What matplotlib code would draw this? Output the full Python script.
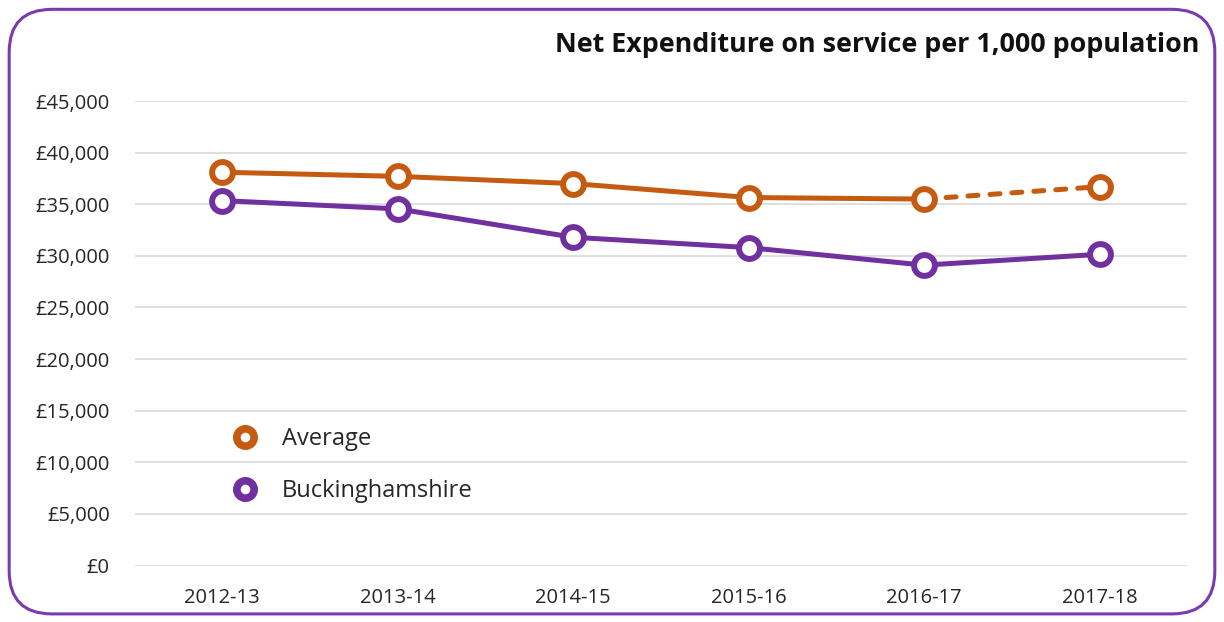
import matplotlib
matplotlib.use("Agg")
import matplotlib.pyplot as plt
from matplotlib.lines import Line2D
from matplotlib.patches import FancyBboxPatch
from matplotlib.ticker import FuncFormatter

years = ["2012-13", "2013-14", "2014-15", "2015-16", "2016-17", "2017-18"]
average = [38100, 37700, 37000, 35650, 35500, 36700]
bucks = [35350, 34550, 31800, 30800, 29100, 30150]
yticks = [0, 5000, 10000, 15000, 20000, 25000, 30000, 35000, 40000, 45000]

ORANGE = "#C55A11"
PURPLE = "#7030A0"
plt.rcParams['font.family'] = ['Open Sans', 'DejaVu Sans']

fig = plt.figure(figsize=(12.24, 6.22), dpi=100)
ax = fig.add_axes([0.110, 0.0908, 0.860, 0.7468])

x = list(range(len(years)))
lw = 3.6
ms = 15
mew = 4.3
# Buckinghamshire
ax.plot(x, bucks, color=PURPLE, lw=lw, zorder=3, solid_capstyle='round')
ax.plot(x, bucks, ls='none', marker='o', ms=ms, mfc='white', mec=PURPLE, mew=mew, zorder=4)
# Average: solid then dashed last segment
ax.plot(x[:5], average[:5], color=ORANGE, lw=lw, zorder=3, solid_capstyle='round')
ax.plot(x[4:], average[4:], color=ORANGE, lw=lw, ls=(0, (2.0, 2.4)), zorder=3, dash_capstyle='round')
ax.plot(x, average, ls='none', marker='o', ms=ms, mfc='white', mec=ORANGE, mew=mew, zorder=4)

ax.set_xlim(-0.5, 5.5)
ax.set_ylim(0, 45000)
ax.set_yticks(yticks)
ax.yaxis.set_major_formatter(FuncFormatter(lambda v, p: "£{:,.0f}".format(v)))
ax.set_xticks(x)
ax.set_xticklabels(years)
ax.grid(axis='y', color='#D9D9D9', lw=1.2)
ax.set_axisbelow(True)
for s in ax.spines.values():
    s.set_visible(False)
ax.tick_params(axis='both', length=0, labelsize=14.5, colors='#262626')
ax.tick_params(axis='x', pad=16)
ax.tick_params(axis='y', pad=18)

handles = [
    Line2D([], [], ls='none', marker='o', ms=12.5, mfc='white', mec=ORANGE, mew=5.5, label='Average'),
    Line2D([], [], ls='none', marker='o', ms=12.5, mfc='white', mec=PURPLE, mew=5.5, label='Buckinghamshire'),
]
leg = fig.legend(handles=handles, loc='upper left', bbox_to_anchor=(0.183, 0.3285),
                 frameon=False, fontsize=17, handletextpad=1.05, labelspacing=1.2,
                 handlelength=1.0, borderaxespad=0)
for t in leg.get_texts():
    t.set_color('#262626')

fig.text(0.980, 0.928, "Net Expenditure on service per 1,000 population", ha='right', va='center',
         fontsize=19.4, fontweight='bold', color='#111111')

border = FancyBboxPatch((0.0075, 0.013), 0.985, 0.972, boxstyle="round,pad=0,rounding_size=0.035",
                        transform=fig.transFigure, fill=False, ec='#7A3AB0', lw=2.2,
                        mutation_aspect=1224/622)
fig.patches.append(border)

fig.savefig("out.png", dpi=100)
